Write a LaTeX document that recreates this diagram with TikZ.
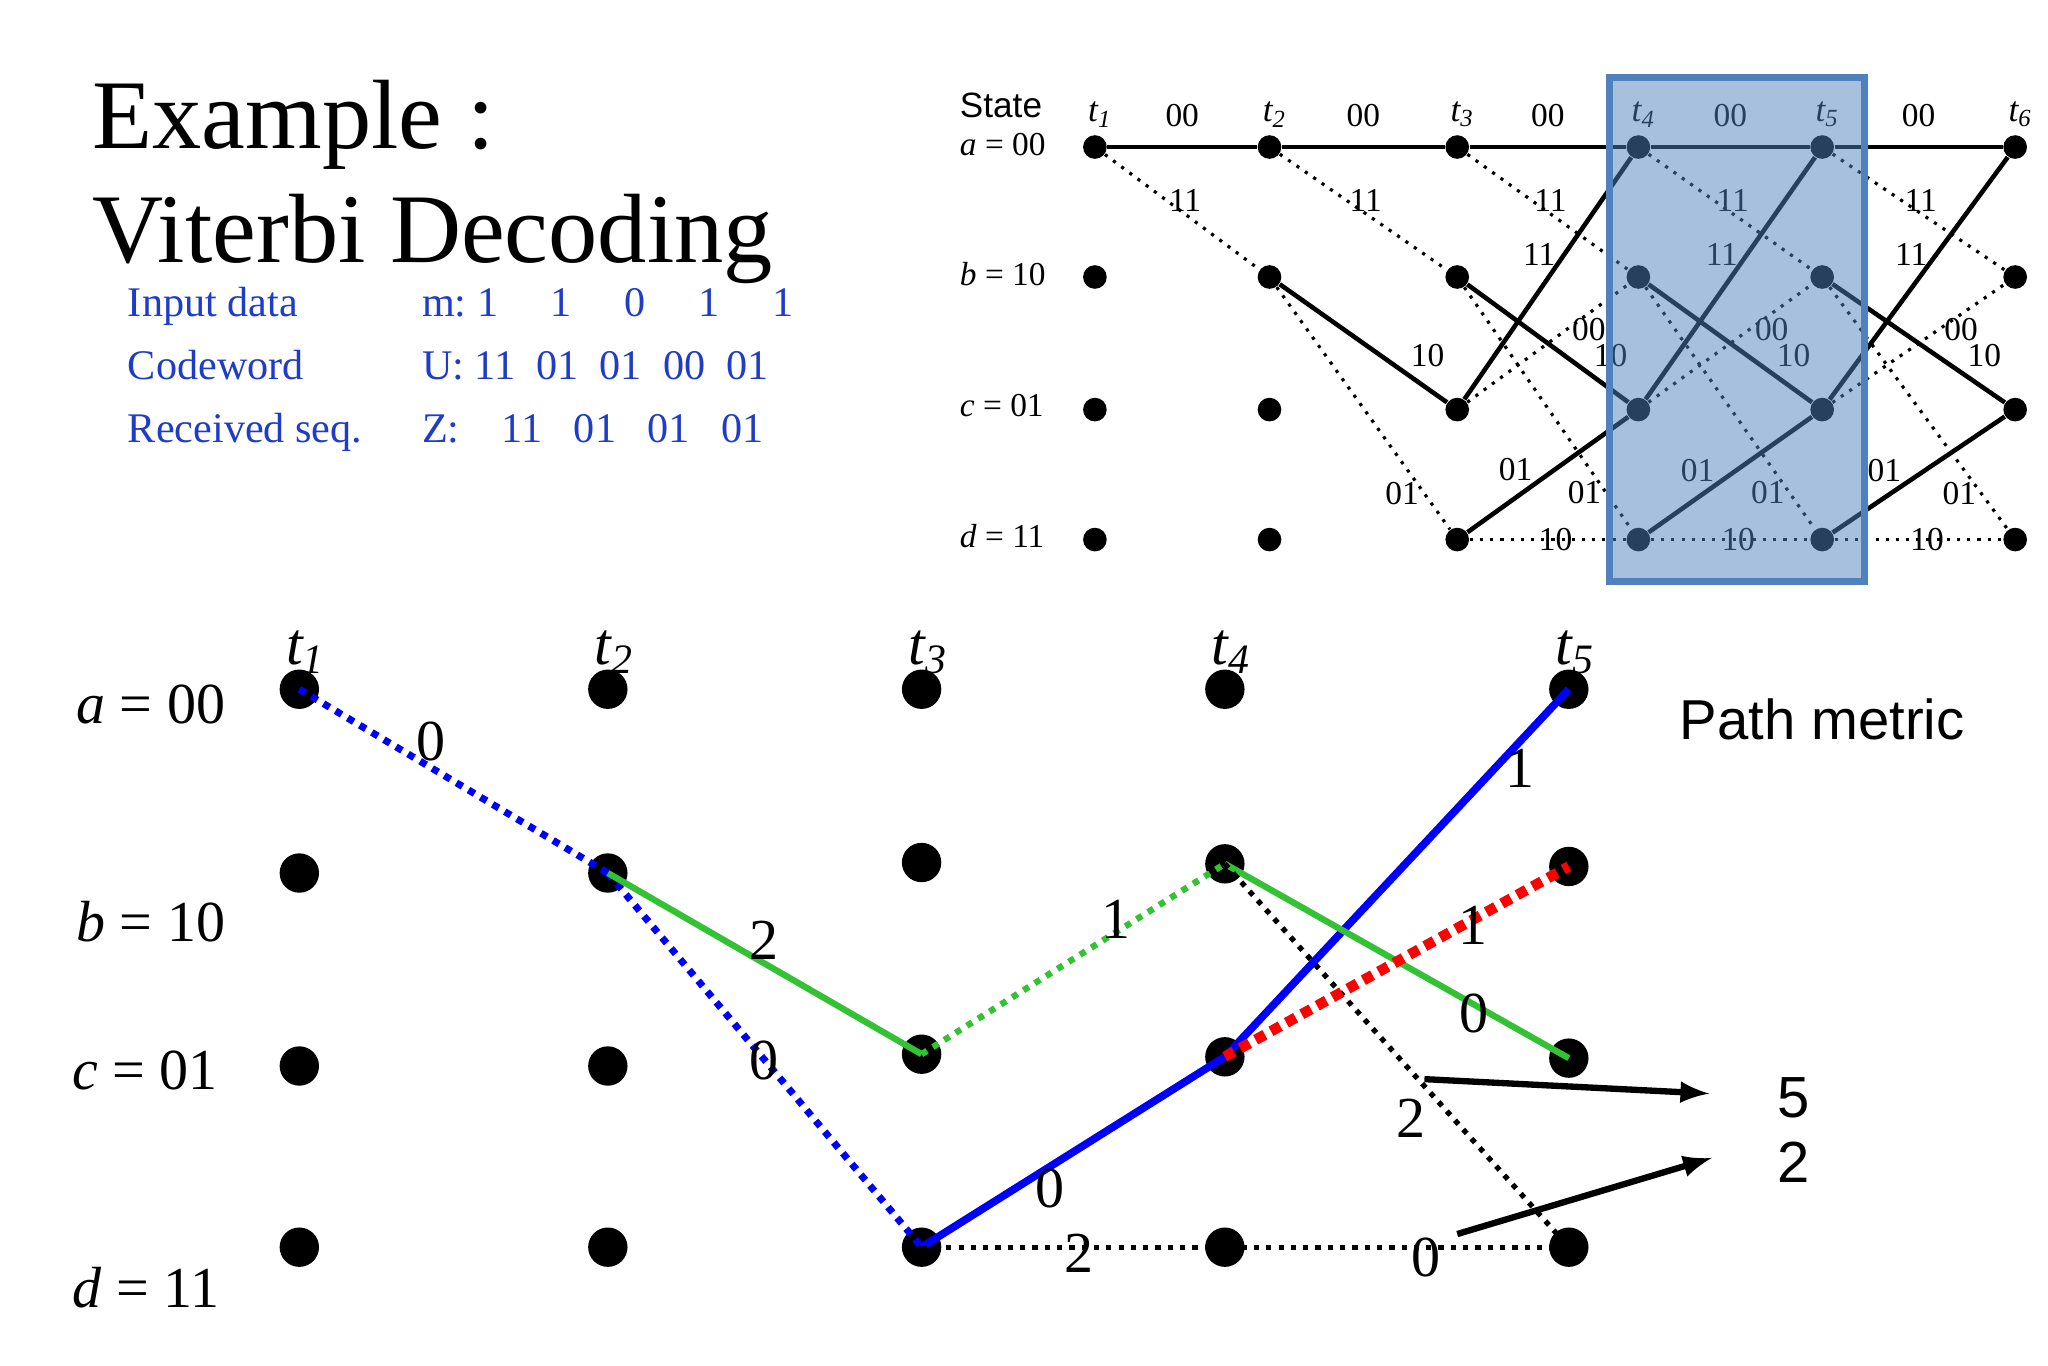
\documentclass[tikz,border=0pt]{standalone}
\usepackage{fontspec}
\setmainfont{Liberation Serif}
\setsansfont{Liberation Sans}
\definecolor{boxb}{RGB}{79,129,189}
\definecolor{txtb}{RGB}{30,60,200}
\begin{document}
\begin{tikzpicture}[x=0.013128cm,y=-0.013128cm,
  bdot/.style={circle,fill=black,inner sep=0pt,minimum size=30*0.013128cm},
  sdot/.style={circle,fill=black,inner sep=0pt,minimum size=18*0.013128cm},
  dotl/.style={dotted,line width=1.2pt},
  sol/.style={line width=1.3pt},
  lab/.style={font=\fontsize{16.5}{18}\selectfont,inner sep=1pt},
  slab/.style={font=\fontsize{9.5}{10}\selectfont,inner sep=1pt},
  blu/.style={text=txtb,font=\fontsize{12}{14}\selectfont,anchor=base west}]
\useasboundingbox (0,0) rectangle (1560,1040);
% title
\node[anchor=base west,font=\fontsize{28}{30}\selectfont,inner sep=0pt] (ex) at (70,113) {Example :};
\node[anchor=base west,font=\fontsize{28}{30}\selectfont,inner sep=0pt] (vd) at (70,200) {Viterbi Decoding};
\node[blu] (i1) at (88,241) {Input data};
\node[blu] (i2) at (88,289) {Codeword};
\node[blu] (i3) at (88,337) {Received seq.};
\node[blu] (m1) at (312,241) {m:\ 1\quad\ 1\quad\ 0\quad\ 1\quad\ 1};
\node[blu] (m2) at (312,289) {U:\ 11\ \ 01\ \ 01\ \ 00\ \ 01};
\node[blu] (m3) at (312,337) {Z:\quad 11\ \ \ 01\ \ \ 01\ \ \ 01};
% top trellis
\foreach \i/\x in {1/834,2/967,3/1110,4/1248,5/1388,6/1535}{
  \node[sdot] (Ta\i) at (\x,112) {};
  \node[sdot] (Tb\i) at (\x,211) {};
  \node[sdot] (Tc\i) at (\x,312) {};
  \node[sdot] (Td\i) at (\x,411) {};
  \node[slab,anchor=south,font=\fontsize{10}{10}\selectfont\itshape] (Tt\i) at (\x+4,100) {t\textsubscript{\i}};
}
\node[slab,anchor=west,font=\sffamily\fontsize{10}{11}\selectfont] (st) at (728,80) {State};
\node[slab,anchor=west] (sa) at (728,110) {\textit{a} = 00};
\node[slab,anchor=west] (sb) at (728,209) {\textit{b} = 10};
\node[slab,anchor=west] (sc) at (728,309) {\textit{c} = 01};
\node[slab,anchor=west] (sd) at (728,408) {\textit{d} = 11};
\foreach \i/\j in {1/2,2/3,3/4,4/5,5/6}{
  \draw[sol] (Ta\i) -- node[slab,above=4pt] {00} (Ta\j);
  \draw[dotl,line width=0.9pt] (Ta\i) -- node[slab,pos=0.45,above right=-3pt] {11} (Tb\j);
}
\foreach \i/\j in {2/3,3/4,4/5,5/6}{
  \draw[sol] (Tb\i) -- node[slab,pos=0.75,above right=0pt] {10} (Tc\j);
  \draw[dotl,line width=0.9pt] (Tb\i) -- node[slab,pos=0.85,left=0pt] {01} (Td\j);
}
\foreach \i/\j in {3/4,4/5,5/6}{
  \draw[sol] (Tc\i) -- node[slab,pos=0.6,left=1pt] {11} (Ta\j);
  \draw[dotl,line width=0.9pt] (Tc\i) -- node[slab,pos=0.62,right=0pt] {00} (Tb\j);
  \draw[sol] (Td\i) -- node[slab,pos=0.3,above=3pt] {01} (Tc\j);
  \draw[dotl,line width=0.9pt] (Td\i) -- node[slab,pos=0.55] {10} (Td\j);
}
\fill[boxb,opacity=0.5] (1226,59) rectangle (1420,443);
\draw[boxb,line width=2pt] (1226,59) rectangle (1420,443);
% bottom trellis
\foreach \i/\x/\yb/\yc in {1/228/665/812,2/463/665/812,3/702/657/803,4/933/658/805,5/1195/660/806}{
  \node[bdot] (a\i) at (\x,525) {};
  \node[bdot] (b\i) at (\x,\yb) {};
  \node[bdot] (c\i) at (\x,\yc) {};
  \node[bdot] (d\i) at (\x,950) {};
  \node[font=\fontsize{17}{18}\selectfont\itshape,inner sep=0pt] (t\i) at (\x+5,497) {t\textsubscript{\i}};
}
\node[lab,anchor=base west] (la) at (55,551) {\textit{a} = 00};
\node[lab,anchor=base west] (lb) at (55,717) {\textit{b} = 10};
\node[lab,anchor=base west] (lc) at (52,830) {\textit{c} = 01};
\node[lab,anchor=base west] (ld) at (52,996) {\textit{d} = 11};
\draw[blue,dotl,line width=2pt] (a1.center) -- (b2.center);
\draw[blue,dotl,line width=2pt] (b2.center) -- (d3.center);
\draw[green!70!black!80,line width=1.8pt] (b2.center) -- (c3.center);
\draw[green!70!black!80,dotl,line width=1.8pt] (c3.center) -- (b4.center);
\draw[blue,line width=2.2pt] (d3.center) -- (c4.center) -- (a5.center);
\draw[black,dotl,line width=1.5pt] (d3.center) -- (d4.center) -- (d5.center);
\draw[green!70!black!80,line width=1.8pt] (b4.center) -- (c5.center);
\draw[black,dotl,line width=1.5pt] (b4.center) -- (d5.center);
\draw[red,dotted,line width=3pt] (c4.center) -- (b5.center);
\node[lab] (n1) at (328,565) {0};
\node[lab] (n2) at (582,808) {0};
\node[lab] (n3) at (582,716) {2};
\node[lab] (n4) at (850,700) {1};
\node[lab] (n5) at (800,905) {0};
\node[lab] (n6) at (1158,585) {1};
\node[lab] (n7) at (822,955) {2};
\node[lab] (n8) at (1086,958) {0};
\node[lab] (n9) at (1123,772) {0};
\node[lab] (n10) at (1075,852) {2};
\node[lab] (n11) at (1122,705) {1};
\node[font=\sffamily\fontsize{16}{18}\selectfont] (pm) at (1388,548) {Path metric};
\node[font=\sffamily\fontsize{16.5}{18}\selectfont] (p5) at (1366,836) {5};
\node[font=\sffamily\fontsize{16.5}{18}\selectfont] (p2) at (1366,885) {2};
\coordinate (s1) at (1085,822);
\coordinate (e1) at (1302,833);
\coordinate (s2) at (1110,940);
\coordinate (e2) at (1304,882);
\draw[-latex,line width=1.8pt] (s1) -- (e1);
\draw[-latex,line width=1.8pt] (s2) -- (e2);
\end{tikzpicture}
\end{document}
